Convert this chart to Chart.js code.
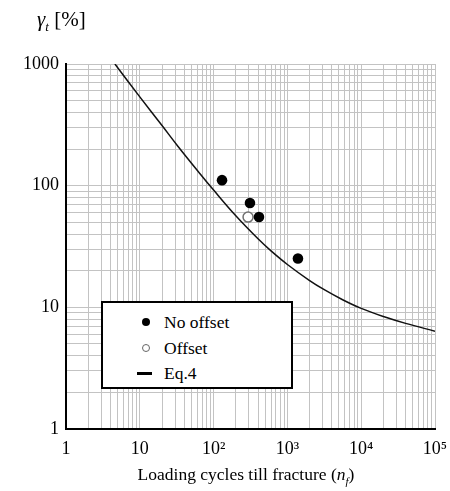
<!DOCTYPE html>
<html>
<head>
<meta charset="utf-8">
<script src="https://cdn.jsdelivr.net/npm/chart.js@4/dist/chart.umd.min.js"></script>
<style>
  html, body { margin: 0; padding: 0; background: #fff; }
  #wrap { position: relative; width: 450px; height: 491px; font-family: 'Liberation Serif', 'Times New Roman', serif; color: #000; }
  canvas { position: absolute; left: 0; top: 0; }
  #ytitle { position: absolute; left: 37px; top: 7px; font-size: 21px; white-space: nowrap; }
  #xtitle { position: absolute; left: 0; width: 492px; top: 464px; font-size: 17.5px; text-align: center; white-space: nowrap; }
  #legend { position: absolute; left: 101px; top: 301px; width: 188px; height: 84px; border: 2px solid #000; background: #fff; }
  .row { position: absolute; left: 0; height: 20px; font-size: 17.5px; line-height: 20px; white-space: nowrap; }
  .row .lbl { position: absolute; left: 61px; top: 0; }
  .dot { position: absolute; left: 39px; top: 6px; width: 8px; height: 8px; border-radius: 50%; box-sizing: border-box; }
  .dash { position: absolute; left: 34px; top: 9px; width: 15px; height: 2.5px; background: #000; }
</style>
</head>
<body>
<div id="wrap">
  <canvas id="c" width="450" height="491"></canvas>
  <div id="ytitle"><i>γ<sub style="font-size:13px">t</sub></i> [%]</div>
  <div id="xtitle">Loading cycles till fracture (<i>n<sub style="font-size:11px">f</sub></i>)</div>
  <div id="legend">
    <div class="row" style="top:9px"><span class="dot" style="background:#000"></span><span class="lbl">No offset</span></div>
    <div class="row" style="top:35px"><span class="dot" style="background:#fff;border:1.3px solid #666"></span><span class="lbl">Offset</span></div>
    <div class="row" style="top:60px"><span class="dash"></span><span class="lbl">Eq.4</span></div>
  </div>
</div>
<script>
// ---- data ----
const noOffsetX = [130, 311, 412, 1390];
const noOffsetY = [111, 72, 55.2, 25.2];
const offsetX = [293];
const offsetY = [55.2];
const eqX = [4.6, 10, 20, 33, 65, 100, 200, 400, 600, 1000, 2000, 3200, 5600, 10000, 20000, 40000, 100000];
const eqY = [1000, 537, 312, 210, 126, 92, 56.6, 36.6, 29.1, 22.5, 16.6, 13.9, 11.55, 9.8, 8.4, 7.38, 6.37];

// ---- tick labels ----
const xDecades = [1, 10, 100, 1000, 10000, 100000];
const xTickLabels = ['1', '10', '10²', '10³', '10⁴', '10⁵'];
const yDecades = [1, 10, 100, 1000];
const yTickLabels = ['1', '10', '100', '1000'];

function gridValues(decades) {
  const out = [];
  for (let i = 0; i < decades.length; i++) {
    out.push(decades[i]);
    if (i < decades.length - 1) {
      for (let m = 2; m <= 9; m++) out.push(decades[i] * m);
    }
  }
  return out;
}
const xGrid = gridValues(xDecades);
const yGrid = gridValues(yDecades);

const toPts = (xs, ys) => xs.map((x, i) => ({ x: x, y: ys[i] }));

const tickFont = { family: "'Liberation Serif', 'Times New Roman', serif", size: 18 };

new Chart(document.getElementById('c'), {
  type: 'scatter',
  data: {
    datasets: [
      {
        label: 'No offset',
        data: toPts(noOffsetX, noOffsetY),
        backgroundColor: '#000',
        borderColor: '#000',
        pointRadius: 5.3,
        borderWidth: 0,
        order: 0
      },
      {
        label: 'Offset',
        data: toPts(offsetX, offsetY),
        backgroundColor: '#fff',
        borderColor: '#707070',
        pointRadius: 5,
        borderWidth: 1.5,
        order: 1
      },
      {
        type: 'line',
        label: 'Eq.4',
        data: toPts(eqX, eqY),
        borderColor: '#111',
        borderWidth: 1.5,
        pointRadius: 0,
        fill: false,
        tension: 0.4,
        order: 2
      }
    ]
  },
  options: {
    responsive: false,
    animation: false,
    devicePixelRatio: 1,
    layout: { padding: { left: 0, right: 15, top: 64, bottom: 0 } },
    plugins: { legend: { display: false }, tooltip: { enabled: false }, title: { display: false } },
    scales: {
      x: {
        type: 'logarithmic',
        min: 1,
        max: 100000,
        afterBuildTicks: (s) => { s.ticks = xGrid.map(v => ({ value: v })); },
        afterFit: (s) => { s.height = 62; s.paddingRight = 0; s.paddingLeft = 0; },
        grid: { color: '#c3c3c3', lineWidth: 1, drawTicks: false },
        border: { display: true, color: '#000', width: 2 },
        ticks: {
          autoSkip: false,
          maxRotation: 0,
          padding: 9,
          color: '#000',
          font: tickFont,
          callback: (v) => { const i = xDecades.indexOf(v); return i >= 0 ? xTickLabels[i] : ''; }
        }
      },
      y: {
        type: 'logarithmic',
        min: 1,
        max: 1000,
        afterBuildTicks: (s) => { s.ticks = yGrid.map(v => ({ value: v })); },
        afterFit: (s) => { s.width = 66; s.paddingTop = 0; s.paddingBottom = 0; },
        grid: { color: '#c3c3c3', lineWidth: 1, drawTicks: false },
        border: { display: true, color: '#000', width: 2 },
        ticks: {
          autoSkip: false,
          padding: 7,
          color: '#000',
          font: tickFont,
          callback: (v) => { const i = yDecades.indexOf(v); return i >= 0 ? yTickLabels[i] : ''; }
        }
      }
    }
  }
});
</script>
</body>
</html>
